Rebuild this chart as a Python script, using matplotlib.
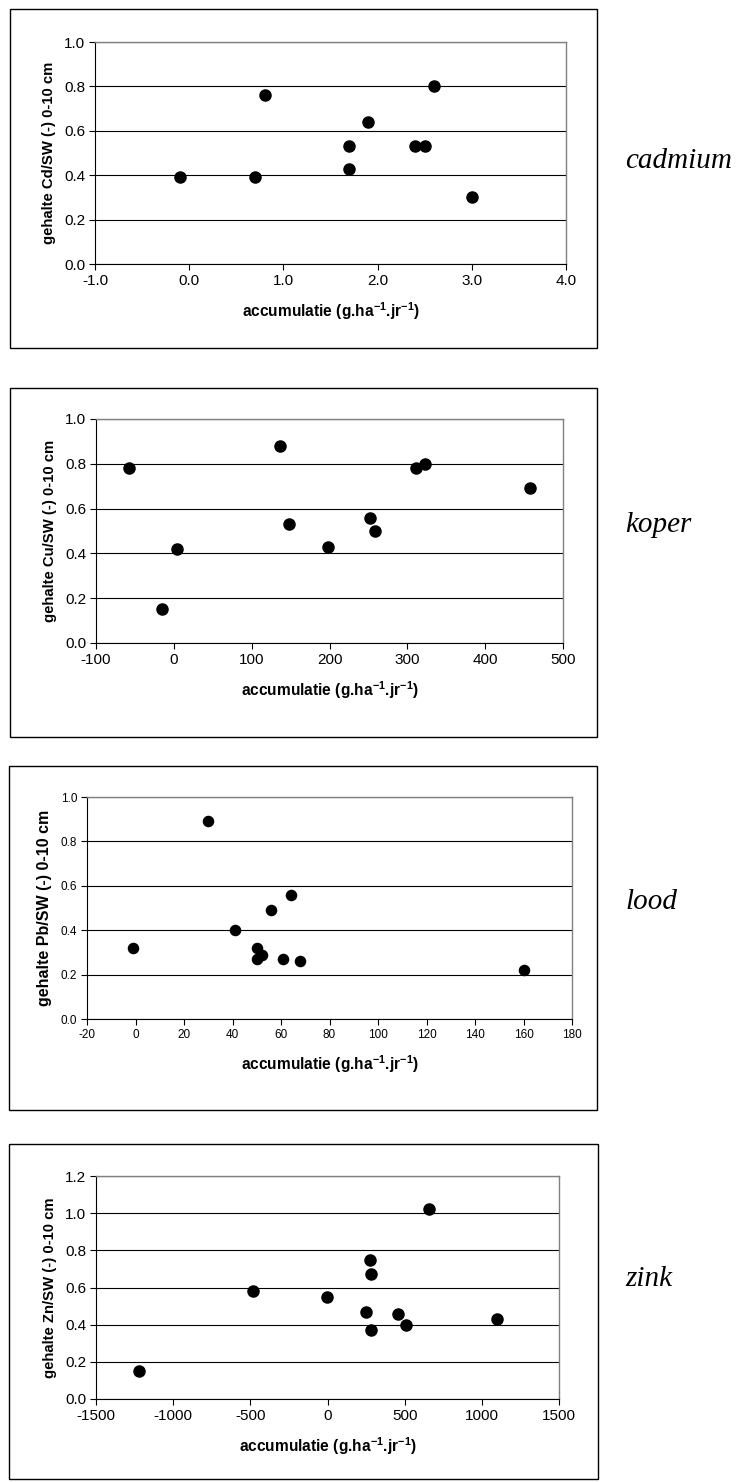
import matplotlib
matplotlib.use("Agg")
import matplotlib.pyplot as plt
from matplotlib.patches import Rectangle

plt.rcParams['font.family'] = ['Liberation Sans', 'DejaVu Sans']
plt.rcParams['mathtext.fontset'] = 'custom'
plt.rcParams['mathtext.rm'] = 'Liberation Sans'
plt.rcParams['mathtext.bf'] = 'Liberation Sans:bold'

# data
cd_x = [-0.1, 0.7, 0.8, 1.7, 1.7, 1.9, 2.4, 2.5, 2.6, 3.0]
cd_y = [0.39, 0.39, 0.76, 0.53, 0.43, 0.64, 0.53, 0.53, 0.80, 0.30]

cu_x = [-57, -15, 4, 137, 148, 198, 252, 259, 311, 323, 457]
cu_y = [0.78, 0.15, 0.42, 0.88, 0.53, 0.43, 0.56, 0.50, 0.78, 0.80, 0.69]

pb_x = [-1, 30, 41, 50, 50, 52, 56, 61, 64, 68, 160]
pb_y = [0.32, 0.89, 0.40, 0.32, 0.27, 0.29, 0.49, 0.27, 0.56, 0.26, 0.22]

zn_x = [-1220, -485, -3, 248, 278, 280, 280, 460, 510, 655, 1098]
zn_y = [0.15, 0.58, 0.55, 0.47, 0.75, 0.67, 0.37, 0.46, 0.40, 1.02, 0.43]

names = ['cadmium', 'koper', 'lood', 'zink']
ylabels = ['gehalte Cd/SW (-) 0-10 cm', 'gehalte Cu/SW (-) 0-10 cm',
           'gehalte Pb/SW (-) 0-10 cm', 'gehalte Zn/SW (-) 0-10 cm']
xticks = [[-1.0, 0.0, 1.0, 2.0, 3.0, 4.0],
          [-100, 0, 100, 200, 300, 400, 500],
          [-20, 0, 20, 40, 60, 80, 100, 120, 140, 160, 180],
          [-1500, -1000, -500, 0, 500, 1000, 1500]]
xfmt = ['{:.1f}', '{:d}', '{:d}', '{:d}']
yticks = [[0.0, 0.2, 0.4, 0.6, 0.8, 1.0],
          [0.0, 0.2, 0.4, 0.6, 0.8, 1.0],
          [0.0, 0.2, 0.4, 0.6, 0.8, 1.0],
          [0.0, 0.2, 0.4, 0.6, 0.8, 1.0, 1.2]]
xs = [cd_x, cu_x, pb_x, zn_x]
ys = [cd_y, cu_y, pb_y, zn_y]

W, H = 744, 1482
fig = plt.figure(figsize=(W / 100, H / 100), dpi=100)

# pixel layout: outer box (l, t, r, b), axes (l, t, r, b), label baseline
boxes = [(10, 9, 597, 348), (10, 388, 597, 737), (9, 766, 597, 1110), (9, 1144, 598, 1479)]
axpos = [(95, 42, 566, 264), (96, 419, 563, 643), (87, 797, 572, 1019), (96, 1176, 559, 1399)]
label_y = [168, 532, 909, 1286]
tick_size = [11, 11, 8.5, 11]
msize = [8, 8, 7.3, 8]


def fx(p):
    return p / W


def fy(p):
    return 1 - p / H


for i in range(4):
    bl, bt, br, bb = boxes[i]
    fig.patches.append(Rectangle((fx(bl), fy(bb)), fx(br - bl), (bb - bt) / H,
                                 transform=fig.transFigure, fill=False,
                                 edgecolor='black', linewidth=1.0))
    l, t, r, b = axpos[i]
    ax = fig.add_axes([fx(l), fy(b), fx(r - l), (b - t) / H])
    ax.plot(xs[i], ys[i], 'o', color='black', markersize=msize[i], zorder=3, clip_on=False)
    ax.set_xlim(xticks[i][0], xticks[i][-1])
    ax.set_ylim(yticks[i][0], yticks[i][-1])
    ax.set_xticks(xticks[i])
    ax.set_xticklabels([xfmt[i].format(v) for v in xticks[i]])
    ax.set_yticks(yticks[i])
    ax.set_yticklabels(['{:.1f}'.format(v) for v in yticks[i]])
    ax.yaxis.grid(True, color='black', linewidth=0.8)
    ax.set_axisbelow(True)
    ax.tick_params(direction='out', length=4, width=0.8, labelsize=tick_size[i], pad=3)
    for s in ['top', 'right']:
        ax.spines[s].set_color('#808080')
        ax.spines[s].set_linewidth(1.0)
    for s in ['left', 'bottom']:
        ax.spines[s].set_color('black')
        ax.spines[s].set_linewidth(0.8)
    ax.set_ylabel(ylabels[i], fontsize=10.7 if i != 2 else 11.5, fontweight='bold', labelpad=6)
    ax.set_xlabel(r'accumulatie (g.ha$^{\mathbf{-1}}$.jr$^{\mathbf{-1}}$)',
                  fontsize=11.2, fontweight='bold', labelpad=9)
    fig.text(fx(625), fy(label_y[i]), names[i], family='Liberation Serif',
             style='italic', fontsize=21, ha='left', va='baseline')

fig.savefig('out.png', dpi=100)
